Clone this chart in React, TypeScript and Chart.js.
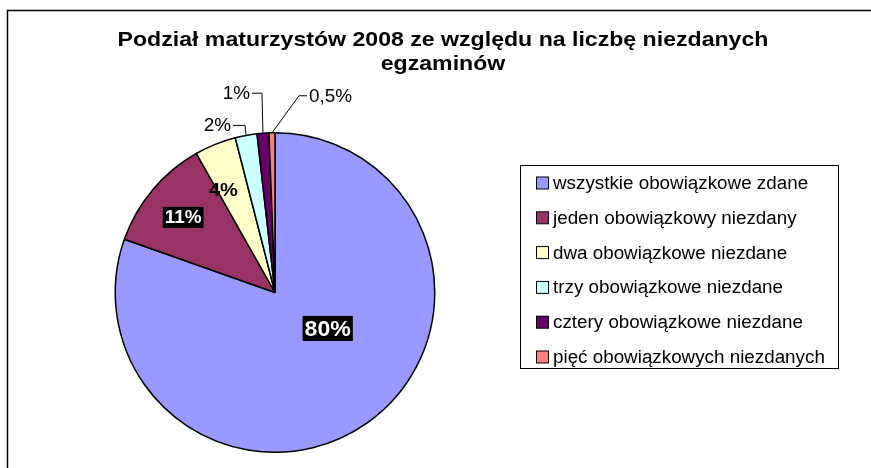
import { useEffect, useRef } from "react";
import { Chart, registerables } from "chart.js";

Chart.register(...registerables);

const categories = [
  "wszystkie obowiązkowe zdane",
  "jeden obowiązkowy niezdany",
  "dwa obowiązkowe niezdane",
  "trzy obowiązkowe niezdane",
  "cztery obowiązkowe niezdane",
  "pięć obowiązkowych niezdanych",
];
const shares = [80.4, 11.4, 4.2, 2.2, 1.2, 0.6];
const sliceLabels = ["80%", "11%", "4%", "2%", "1%", "0,5%"];
const titleLines = [
  "Podział maturzystów 2008 ze względu na liczbę niezdanych",
  "egzaminów",
];
const colors = ["#9999FF", "#993366", "#FFFFCC", "#CCFFFF", "#660066", "#FF8080"];

const FONT = "Arial, 'Liberation Sans', sans-serif";

// label styles (positions relative to pie centre, in units of radius)
const insideLabels: Record<number, { dx: number; dy: number; size: number; boxed: boolean }> = {
  0: { dx: 0.33, dy: 0.225, size: 22, boxed: true },
  1: { dx: -0.575, dy: -0.47, size: 18, boxed: true },
  2: { dx: -0.323, dy: -0.64, size: 19, boxed: false },
};
// leader labels: elbow and end offsets from the arc anchor (px)
const leaderLabels: Record<number, { ex: number; ey: number; tx: number; align: CanvasTextAlign }> = {
  3: { ex: -1, ey: -10, tx: -13, align: "right" },
  4: { ex: -1, ey: -40, tx: -11, align: "right" },
  5: { ex: 27, ey: -37, tx: 35, align: "left" },
};

function stretchedText(ctx: CanvasRenderingContext2D, text: string, x: number, y: number, sx: number) {
  ctx.save();
  ctx.translate(x, y);
  ctx.scale(sx, 1);
  ctx.fillText(text, 0, 0);
  ctx.restore();
}

const decorPlugin = {
  id: "decor",
  beforeDraw(chart: any) {
    const { ctx, width, height } = chart;
    ctx.save();
    ctx.fillStyle = "#ffffff";
    ctx.fillRect(0, 0, width, height);
    ctx.strokeStyle = "#000000";
    ctx.lineWidth = 1.5;
    ctx.beginPath();
    ctx.moveTo(7.5, height + 5);
    ctx.lineTo(7.5, 10.5);
    ctx.lineTo(width + 5, 10.5);
    ctx.stroke();
    ctx.restore();
  },
  afterDatasetsDraw(chart: any) {
    const { ctx } = chart;
    const meta = chart.getDatasetMeta(0);
    ctx.save();
    meta.data.forEach((arc: any, i: number) => {
      const cx = arc.x;
      const cy = arc.y;
      const r = arc.outerRadius;
      const text = sliceLabels[i];
      if (insideLabels[i]) {
        const s = insideLabels[i];
        const x = cx + s.dx * r;
        const y = cy + s.dy * r;
        ctx.font = `bold ${s.size}px ${FONT}`;
        ctx.textAlign = "center";
        ctx.textBaseline = "middle";
        if (s.boxed) {
          const w = ctx.measureText(text).width * 1.05 + 4;
          const h = s.size + 3;
          ctx.fillStyle = "#000000";
          ctx.fillRect(x - w / 2, y - h / 2, w, h);
          ctx.fillStyle = "#ffffff";
        } else {
          ctx.fillStyle = "#000000";
        }
        stretchedText(ctx, text, x, y + 1, 1.05);
      } else if (leaderLabels[i]) {
        const s = leaderLabels[i];
        const mid = (arc.startAngle + arc.endAngle) / 2;
        const ax = cx + Math.cos(mid) * r;
        const ay = cy + Math.sin(mid) * r;
        ctx.strokeStyle = "#000000";
        ctx.lineWidth = 1;
        ctx.beginPath();
        ctx.moveTo(ax, ay);
        ctx.lineTo(ax + s.ex, ay + s.ey);
        ctx.lineTo(ax + s.tx, ay + s.ey);
        ctx.stroke();
        ctx.font = `18px ${FONT}`;
        ctx.fillStyle = "#000000";
        ctx.textAlign = s.align;
        ctx.textBaseline = "middle";
        const off = s.align === "right" ? -2 : 2;
        stretchedText(ctx, text, ax + s.tx + off, ay + s.ey + 1, 1.05);
      }
    });
    ctx.restore();
  },
  afterDraw(chart: any) {
    const { ctx } = chart;
    ctx.save();
    // title
    ctx.fillStyle = "#000000";
    ctx.font = `bold 21px ${FONT}`;
    ctx.textAlign = "center";
    ctx.textBaseline = "middle";
    titleLines.forEach((line, i) => stretchedText(ctx, line, 443, 40 + i * 24, 1.1));
    // legend
    const bx = 520.5, by = 165.5, bw = 318, bh = 203;
    ctx.strokeStyle = "#000000";
    ctx.lineWidth = 1;
    ctx.strokeRect(bx, by, bw, bh);
    ctx.font = `18px ${FONT}`;
    ctx.textAlign = "left";
    categories.forEach((c, i) => {
      const y = 183 + i * 34.8;
      ctx.fillStyle = colors[i];
      ctx.fillRect(536.5, y - 6, 12, 12);
      ctx.strokeRect(536.5, y - 6, 12, 12);
      ctx.fillStyle = "#000000";
      stretchedText(ctx, c, 553, y + 1, 1.045);
    });
    ctx.restore();
  },
};

export default function App() {
  const ref = useRef<HTMLCanvasElement>(null);
  useEffect(() => {
    document.body.style.margin = "0";
    const chart = new Chart(ref.current!, {
      type: "pie",
      data: {
        labels: categories,
        datasets: [
          {
            data: shares,
            backgroundColor: colors,
            borderColor: "#000000",
            borderWidth: 1.5,
          },
        ],
      },
      options: {
        responsive: false,
        animation: false,
        layout: { padding: { left: 112, right: 433, top: 132, bottom: 15 } },
        plugins: {
          legend: { display: false },
          title: { display: false },
          tooltip: { enabled: false },
        },
      },
      plugins: [decorPlugin],
    });
    return () => chart.destroy();
  }, []);
  return (
    <div style={{ width: 871, height: 468 }}>
      <canvas ref={ref} width={871} height={468} style={{ display: "block" }} />
    </div>
  );
}
